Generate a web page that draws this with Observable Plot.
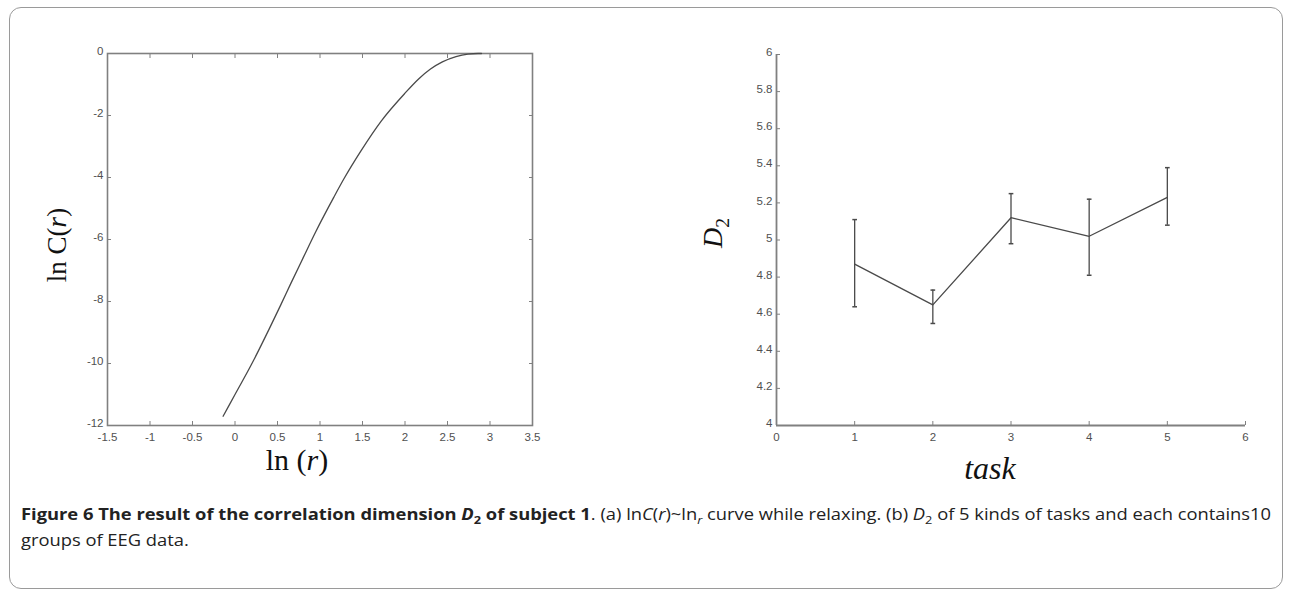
<!DOCTYPE html>
<html>
<head>
<meta charset="utf-8">
<script src="https://cdn.jsdelivr.net/npm/d3@7"></script>
<script src="https://cdn.jsdelivr.net/npm/@observablehq/plot@0.6"></script>
<style>
  html, body { margin: 0; padding: 0; background: #fff; }
  #root { position: relative; width: 1292px; height: 594px; overflow: hidden; background: #fff; }
  #border { position: absolute; left: 9px; top: 7px; width: 1274px; height: 582px; border: 1px solid #9a9a9a; border-radius: 12px; box-sizing: border-box; }
  .chart { position: absolute; top: 0; }
  .lbl { position: absolute; font-family: "Liberation Serif", "DejaVu Serif", serif; color: #111; white-space: nowrap; }
  .cap { position: absolute; left: 21px; font-family: "Open Sans", sans-serif; font-size: 16px; color: #222; white-space: nowrap; transform-origin: 0 50%; }
  .cap b { font-weight: bold; }
  sub { font-size: 70%; vertical-align: -0.35em; line-height: 0; }
</style>
</head>
<body>
<div id="root">
  <div id="border"></div>
  <div id="left" class="chart" style="left:0px"></div>
  <div id="right" class="chart" style="left:640px"></div>
  <div class="lbl" style="left:57px; top:245px; font-size:27px; transform: translate(-50%,-50%) rotate(-90deg);">ln C(<i>r</i>)</div>
  <div class="lbl" style="left:297px; top:460px; font-size:30px; transform: translate(-50%,-50%);">ln (<i>r</i>)</div>
  <div class="lbl" style="left:713px; top:233px; font-size:28px; transform: translate(-50%,-50%) rotate(-90deg);"><i>D</i><sub>2</sub></div>
  <div class="lbl" style="left:990px; top:468px; font-size:32px; transform: translate(-50%,-50%);"><i>task</i></div>
  <div id="cap1" class="cap" style="top:503px;"><b>Figure 6 The result of the correlation dimension <i>D</i><sub>2</sub> of subject 1</b>. (a) ln<i>C</i>(<i>r</i>)~ln<sub><i>r</i></sub> curve while relaxing. (b) <i>D</i><sub>2</sub> of 5 kinds of tasks and each contains10</div>
  <div id="cap2" class="cap" style="top:529px;">groups of EEG data.</div>
</div>
<script>
// ---- Data: panel (a) lnC(r) ~ ln(r) curve ----
const lnR = [-0.14, 0.0, 0.19, 0.4, 0.54, 0.66, 0.8, 0.95, 1.16, 1.28, 1.48, 1.72, 2.0, 2.16, 2.3, 2.44, 2.6, 2.74, 2.86, 2.9];
const lnC = [-11.7, -11.0, -10.05, -8.9, -8.1, -7.4, -6.6, -5.75, -4.65, -4.05, -3.15, -2.18, -1.28, -0.82, -0.5, -0.27, -0.1, -0.02, 0, 0];
const lnRTicks = [-1.5, -1, -0.5, 0, 0.5, 1, 1.5, 2, 2.5, 3, 3.5];
const lnCTicks = [0, -2, -4, -6, -8, -10, -12];

// ---- Data: panel (b) D2 per task ----
const tasks = [1, 2, 3, 4, 5];
const d2Mean = [4.87, 4.65, 5.12, 5.02, 5.23];
const d2Low = [4.64, 4.55, 4.98, 4.81, 5.08];
const d2High = [5.11, 4.73, 5.25, 5.22, 5.39];
const taskTicks = [0, 1, 2, 3, 4, 5, 6];
const d2Ticks = [4, 4.2, 4.4, 4.6, 4.8, 5, 5.2, 5.4, 5.6, 5.8, 6];

const curve = lnR.map((x, i) => ({x, y: lnC[i]}));
const d2 = tasks.map((t, i) => ({task: t, mean: d2Mean[i], lo: d2Low[i], hi: d2High[i]}));

const axisColor = "#808080";
const lineColor = "#4a4a4a";
const tickText = "#505050";
const fmt = d => String(d);
const font = "'Liberation Sans', Arial, sans-serif";

const left = Plot.plot({
  width: 560, height: 450,
  marginLeft: 107, marginRight: 28, marginTop: 53, marginBottom: 25,
  style: {fontFamily: font, fontSize: "11.5px", color: tickText, background: "transparent"},
  x: {domain: [-1.5, 3.5]},
  y: {domain: [-12, 0]},
  marks: [
    Plot.frame({stroke: axisColor, strokeWidth: 1.6}),
    Plot.axisX(lnRTicks, {anchor: "bottom", tickSize: -4, tickPadding: 11, tickFormat: fmt, stroke: axisColor, fill: tickText, label: null}),
    Plot.axisX(lnRTicks, {anchor: "top", tickSize: -4, stroke: axisColor, fill: null, label: null}),
    Plot.axisY(lnCTicks, {anchor: "left", tickSize: -4, stroke: axisColor, fill: null, label: null}),
    Plot.axisY(lnCTicks, {anchor: "left", tickSize: 0, tickPadding: 4, dy: -2, tickFormat: fmt, fill: tickText, label: null}),
    Plot.axisY(lnCTicks, {anchor: "right", tickSize: -4, stroke: axisColor, fill: null, label: null}),
    Plot.line(curve, {x: "x", y: "y", stroke: lineColor, strokeWidth: 1.3, curve: "monotone-x"})
  ]
});
document.getElementById("left").appendChild(left);

const right = Plot.plot({
  width: 625, height: 450,
  marginLeft: 136, marginRight: 20, marginTop: 54, marginBottom: 25,
  style: {fontFamily: font, fontSize: "11.5px", color: tickText, background: "transparent"},
  x: {domain: [0, 6]},
  y: {domain: [4, 6]},
  marks: [
    Plot.ruleY([4], {stroke: axisColor, strokeWidth: 1.8}),
    Plot.ruleX([0], {stroke: axisColor, strokeWidth: 1.8}),
    Plot.axisX(taskTicks, {anchor: "bottom", tickSize: -4, tickPadding: 11, tickFormat: fmt, stroke: axisColor, fill: tickText, label: null}),
    Plot.axisY(d2Ticks, {anchor: "left", tickSize: -4, stroke: axisColor, fill: null, label: null}),
    Plot.axisY(d2Ticks, {anchor: "left", tickSize: 0, tickPadding: 4, dy: -2, tickFormat: fmt, fill: tickText, label: null}),
    Plot.ruleX(d2, {x: "task", y1: "lo", y2: "hi", stroke: lineColor, strokeWidth: 1.3}),
    Plot.link(d2, {x1: d => d.task - 0.03, x2: d => d.task + 0.03, y1: "hi", y2: "hi", stroke: lineColor, strokeWidth: 1.5}),
    Plot.link(d2, {x1: d => d.task - 0.03, x2: d => d.task + 0.03, y1: "lo", y2: "lo", stroke: lineColor, strokeWidth: 1.5}),
    Plot.line(d2, {x: "task", y: "mean", stroke: lineColor, strokeWidth: 1.3})
  ]
});
document.getElementById("right").appendChild(right);

// fit caption line 1 to the reference width
const c1 = document.getElementById("cap1");
const w = c1.getBoundingClientRect().width;
const s = 1250 / w;
c1.style.transform = `scaleX(${s})`;
document.getElementById("cap2").style.transform = `scaleX(${s})`;
</script>
</body>
</html>
